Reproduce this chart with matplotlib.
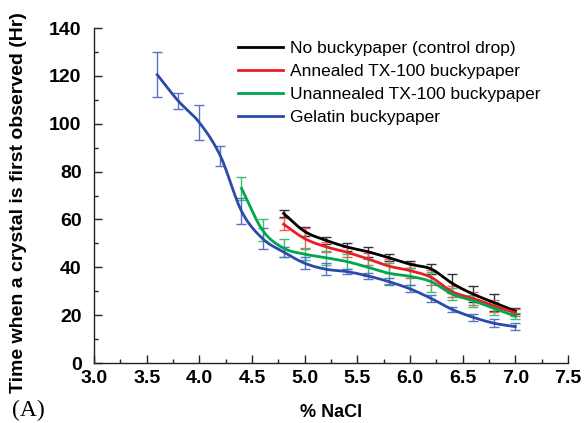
import numpy as np
import matplotlib
matplotlib.use("Agg")
import matplotlib.pyplot as plt
from matplotlib.ticker import MultipleLocator

plt.rcParams['font.family'] = ['Liberation Sans', 'DejaVu Sans']

# ---- data ----
x_blue = [3.6, 3.8, 4.0, 4.2, 4.4, 4.6, 4.8, 5.0, 5.2, 5.4, 5.6, 5.8, 6.0, 6.2, 6.4, 6.6, 6.8, 7.0]
gelatin = [120.5, 109.5, 100.5, 86.5, 63.5, 52, 46.4, 41.7, 39.2, 38.2, 36.4, 34, 31, 27, 22.4, 19.1, 16.6, 15.2]
gelatin_err = [9.5, 3.4, 7.3, 4.3, 5.5, 4.5, 2, 2.6, 2.6, 1.2, 1.2, 1.4, 1.5, 1.5, 1.2, 1.4, 1.7, 1.4]

x_green = [4.4, 4.6, 4.8, 5.0, 5.2, 5.4, 5.6, 5.8, 6.0, 6.2, 6.4, 6.6, 6.8, 7.0]
unannealed = [73, 55.5, 48, 45.5, 44, 42.4, 40, 37.5, 36.2, 34, 28.8, 26, 22.8, 19.6]
unannealed_err = [4.7, 4.5, 3.8, 2.5, 3, 3, 3.5, 4.5, 3.5, 4.2, 2.4, 2.4, 2.6, 1.2]

x_redblack = [4.8, 5.0, 5.2, 5.4, 5.6, 5.8, 6.0, 6.2, 6.4, 6.6, 6.8, 7.0]
annealed = [58, 52, 48.6, 46.3, 43.5, 40.5, 38.6, 35.8, 29.8, 27, 23.8, 21]
annealed_err = [2.5, 4.5, 2, 2, 2.6, 2.8, 3, 3, 2.4, 2.6, 2.5, 1.5]
control = [62.5, 55, 51.3, 48.5, 46.5, 44, 41.3, 39.3, 33.3, 28.8, 25.2, 21.7]
control_err = [1.5, 2, 1.5, 1.5, 2, 1.5, 1.5, 2, 4, 3.5, 3.5, 1.2]

labels = ['No buckypaper (control drop)', 'Annealed TX-100 buckypaper',
          'Unannealed TX-100 buckypaper', 'Gelatin buckypaper']
x_ticks = [3.0, 3.5, 4.0, 4.5, 5.0, 5.5, 6.0, 6.5, 7.0, 7.5]
y_ticks = [0, 20, 40, 60, 80, 100, 120, 140]


def smooth(x, y, n=20):
    """Catmull-Rom curve through the data points (for drawing only)."""
    x = np.asarray(x, float); y = np.asarray(y, float)
    P = np.column_stack([x, y])
    P = np.vstack([2 * P[0] - P[1], P, 2 * P[-1] - P[-2]])
    out = []
    t = np.linspace(0, 1, n, endpoint=False)[:, None]
    for i in range(1, len(P) - 2):
        p0, p1, p2, p3 = P[i - 1], P[i], P[i + 1], P[i + 2]
        seg = 0.5 * ((2 * p1) + (-p0 + p2) * t + (2 * p0 - 5 * p1 + 4 * p2 - p3) * t ** 2
                     + (-p0 + 3 * p1 - 3 * p2 + p3) * t ** 3)
        out.append(seg)
    out.append(P[-2][None, :])
    S = np.vstack(out)
    return S[:, 0], S[:, 1]


fig = plt.figure(figsize=(5.84, 4.23), dpi=100)
ax = fig.add_axes([0.161, 0.1418, 0.8116, 0.792])

series = [
    (x_redblack, control, control_err, '#000000', '#333333'),
    (x_redblack, annealed, annealed_err, '#ee1c25', '#f05a5a'),
    (x_green, unannealed, unannealed_err, '#00a650', '#3cbf6e'),
    (x_blue, gelatin, gelatin_err, '#2b4aaa', '#5a73c8'),
]

handles = []
for (xs, ys, es, c, ec), lab in zip(series, labels):
    ax.errorbar(xs, ys, yerr=es, fmt='none', ecolor=ec, elinewidth=1.0,
                capsize=3.5, capthick=1.0, zorder=2)
for (xs, ys, es, c, ec), lab in zip(series, labels):
    sx, sy = smooth(xs, ys)
    h, = ax.plot(sx, sy, color=c, lw=2.0, label=lab, zorder=3)
    handles.append(h)

ax.set_xlim(3.0, 7.5)
ax.set_ylim(0, 140)
ax.set_xticks(x_ticks)
ax.set_yticks(y_ticks)
ax.set_xticklabels([f'{v:.1f}' for v in x_ticks])
ax.set_yticklabels([str(v) for v in y_ticks])
ax.xaxis.set_minor_locator(MultipleLocator(0.25))
ax.yaxis.set_minor_locator(MultipleLocator(10))
ax.tick_params(which='both', direction='in', top=False, right=False, width=1.0, colors='#222222')
ax.tick_params(which='major', length=5.5)
ax.tick_params(which='minor', length=3)
ax.tick_params(axis='x', pad=5, labelsize=14, labelcolor='black')
ax.tick_params(axis='y', pad=9, labelsize=14, labelcolor='black')
for lab in ax.get_xticklabels() + ax.get_yticklabels():
    lab.set_fontweight('bold')

for s in ['top', 'right']:
    ax.spines[s].set_visible(False)
for s in ['left', 'bottom']:
    ax.spines[s].set_linewidth(1.0)
    ax.spines[s].set_color('#222222')

ax.set_xlabel('% NaCl', fontsize=13, fontweight='bold', labelpad=12)
ax.set_ylabel('Time when a crystal is first observed (Hr)', fontsize=14, fontweight='bold')
ax.yaxis.set_label_coords(-0.141, 0.48)

leg = ax.legend(handles=handles, loc='upper left', bbox_to_anchor=(238 / 584, 1 - 41 / 423),
                bbox_transform=fig.transFigure, frameon=False,
                fontsize=12.5, handlelength=2.6, handletextpad=0.4, labelspacing=0.45,
                borderaxespad=0.0, borderpad=0.0)

fig.text(12 / 584, 1 - 400 / 423, '(A)', fontsize=17, family=['Liberation Serif', 'DejaVu Serif'],
         va='top', ha='left')

fig.savefig('out.png', dpi=100)
